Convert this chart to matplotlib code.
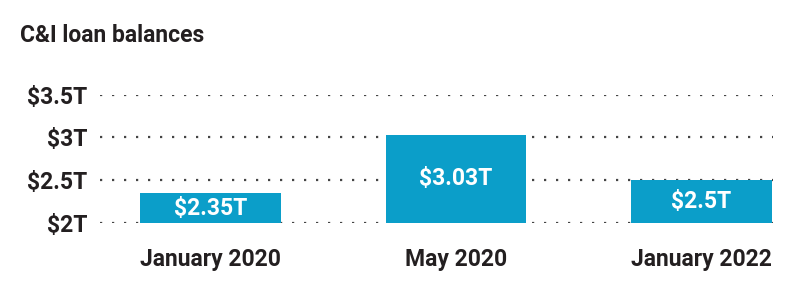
import matplotlib
matplotlib.use("Agg")
import matplotlib.pyplot as plt

# data
categories = ["January 2020", "May 2020", "January 2022"]
balances = [2.35, 3.03, 2.5]
bar_labels = ["$2.35T", "$3.03T", "$2.5T"]
y_ticks = [2, 2.5, 3, 3.5]
y_tick_labels = ["$2T", "$2.5T", "$3T", "$3.5T"]

BAR_COLOR = "#0b9ec9"
TEXT_COLOR = "#231f20"
FS = 16.5

plt.rcParams['font.family'] = ['Roboto', 'DejaVu Sans']

fig = plt.figure(figsize=(8, 3.01), dpi=100)
ax = fig.add_axes([0.125, 0.2591, 0.841, 0.4263])

x = list(range(len(categories)))
bars = ax.bar(x, balances, width=0.573, bottom=0, color=BAR_COLOR, zorder=3)
ax.bar_label(bars, labels=bar_labels, label_type='center', color='white',
             fontsize=FS, fontweight='bold')

ax.set_xlim(-0.45, 2.29)
ax.set_ylim(2, 3.5)
ax.set_yticks(y_ticks)
ax.set_yticklabels(y_tick_labels)
ax.set_xticks(x)
ax.set_xticklabels(categories)
ax.tick_params(axis='y', length=0, pad=9, labelsize=FS, labelcolor=TEXT_COLOR)
ax.tick_params(axis='x', length=0, pad=18, labelsize=FS, labelcolor=TEXT_COLOR)
for lbl in ax.get_xticklabels() + ax.get_yticklabels():
    lbl.set_fontweight('bold')

# dotted gridlines behind the bars
ax.yaxis.grid(True, color='#444444', linestyle=(0, (1, 4.4)), linewidth=1.6, zorder=1)
ax.set_axisbelow(True)
for s in ax.spines.values():
    s.set_visible(False)

fig.text(20 / 800, 1 - 35 / 301, "C&I loan balances", fontsize=FS, fontweight='bold',
         color=TEXT_COLOR, ha='left', va='center')

fig.savefig("out.png", dpi=100)
